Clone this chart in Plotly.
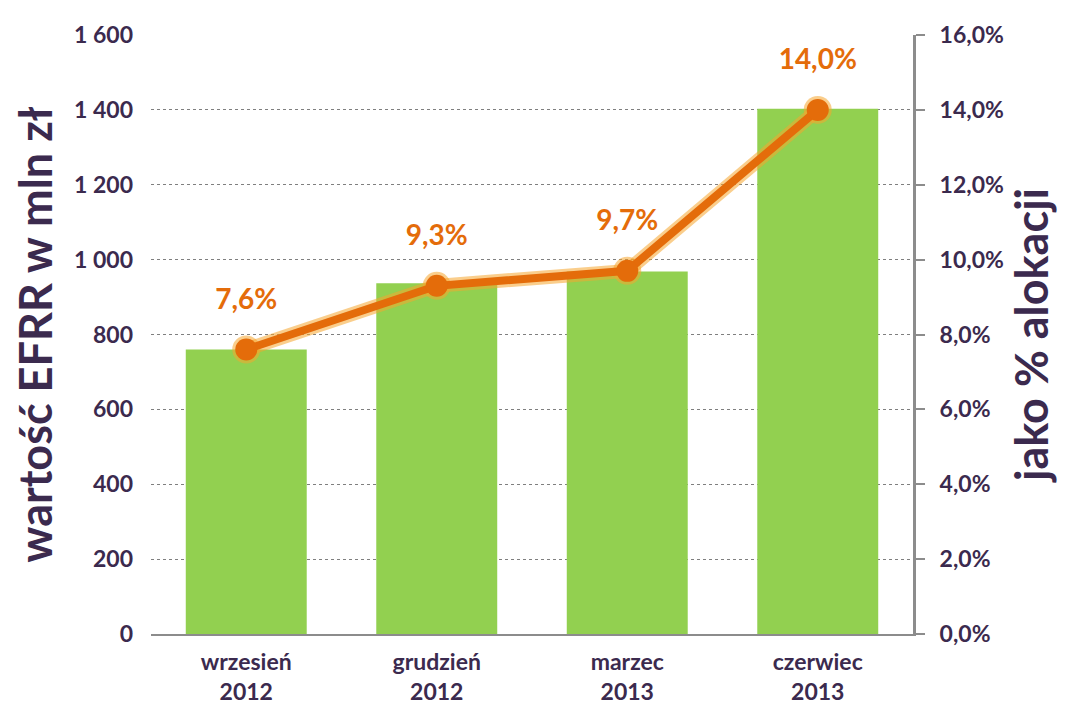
import plotly.graph_objects as go

categories = ["wrzesień<br>2012", "grudzień<br>2012", "marzec<br>2013", "czerwiec<br>2013"]
values_mln = [760, 937, 968, 1403]
alloc_pct = [7.6, 9.3, 9.7, 14.0]
alloc_labels = ["7,6%", "9,3%", "9,7%", "14,0%"]
left_ticks = [0, 200, 400, 600, 800, 1000, 1200, 1400, 1600]
left_tick_text = ["0", "200", "400", "600", "800", "1 000", "1 200", "1 400", "1 600"]
right_ticks = [0, 2, 4, 6, 8, 10, 12, 14, 16]
right_tick_text = ["0,0%", "2,0%", "4,0%", "6,0%", "8,0%", "10,0%", "12,0%", "14,0%", "16,0%"]

FONT = "Lato, Carlito, Calibri, sans-serif"
DARK = "#3B2A4E"
ORANGE = "#E46C0A"
GREEN = "#92D050"

fig = go.Figure()
fig.add_trace(go.Bar(x=categories, y=values_mln, marker=dict(color=GREEN, line=dict(width=0)),
                     yaxis="y", showlegend=False, hoverinfo="skip"))
# glow
fig.add_trace(go.Scatter(x=categories, y=alloc_pct, yaxis="y2", mode="lines+markers",
                         line=dict(color="rgba(245,165,45,0.55)", width=14),
                         marker=dict(size=28, color="rgba(245,165,45,0.55)"),
                         showlegend=False, hoverinfo="skip"))
fig.add_trace(go.Scatter(x=categories, y=alloc_pct, yaxis="y2", mode="lines+markers",
                         line=dict(color=ORANGE, width=8),
                         marker=dict(size=22, color=ORANGE),
                         showlegend=False))
# data labels (transparent large markers push the text higher above the points)
fig.add_trace(go.Scatter(x=categories, y=alloc_pct, yaxis="y2", mode="markers+text",
                         marker=dict(size=52, color="rgba(0,0,0,0)"),
                         text=alloc_labels, textposition="top center",
                         textfont=dict(family=FONT, size=28, color=ORANGE, weight="bold"),
                         showlegend=False, hoverinfo="skip"))

fig.update_layout(
    width=1072, height=711,
    margin=dict(l=143, r=167, t=19, b=85),
    paper_bgcolor="white", plot_bgcolor="white",
    bargap=0.365,
    font=dict(family=FONT, color=DARK),
    xaxis=dict(showline=True, linecolor="#8C8C8C", linewidth=2, ticks="",
               tickfont=dict(family=FONT, size=23, color=DARK, weight="bold"),
               ticklabelstandoff=6, showgrid=False),
    yaxis=dict(range=[0, 1600], tickvals=left_ticks, ticktext=left_tick_text,
               showgrid=True, gridcolor="#7F7F7F", griddash="dot", gridwidth=1,
               zeroline=False, showline=False, ticks="", ticklabelstandoff=17,
               tickfont=dict(family=FONT, size=23, color=DARK, weight="bold"),
               title=dict(text="wartość EFRR w mln zł",
                          font=dict(family=FONT, size=45, color=DARK, weight="bold"),
                          standoff=10)),
    yaxis2=dict(range=[0, 16], tickvals=right_ticks, ticktext=right_tick_text,
                overlaying="y", side="right", showgrid=False, zeroline=False,
                showline=True, linecolor="#8C8C8C", linewidth=3,
                ticks="outside", ticklen=9, tickcolor="#8C8C8C", tickwidth=2,
                ticklabelstandoff=10,
                tickfont=dict(family=FONT, size=23, color=DARK, weight="bold"),
                title=dict(text="jako % alokacji",
                           font=dict(family=FONT, size=45, color=DARK, weight="bold"),
                           standoff=12)),
)

fig.write_html("out.html")
